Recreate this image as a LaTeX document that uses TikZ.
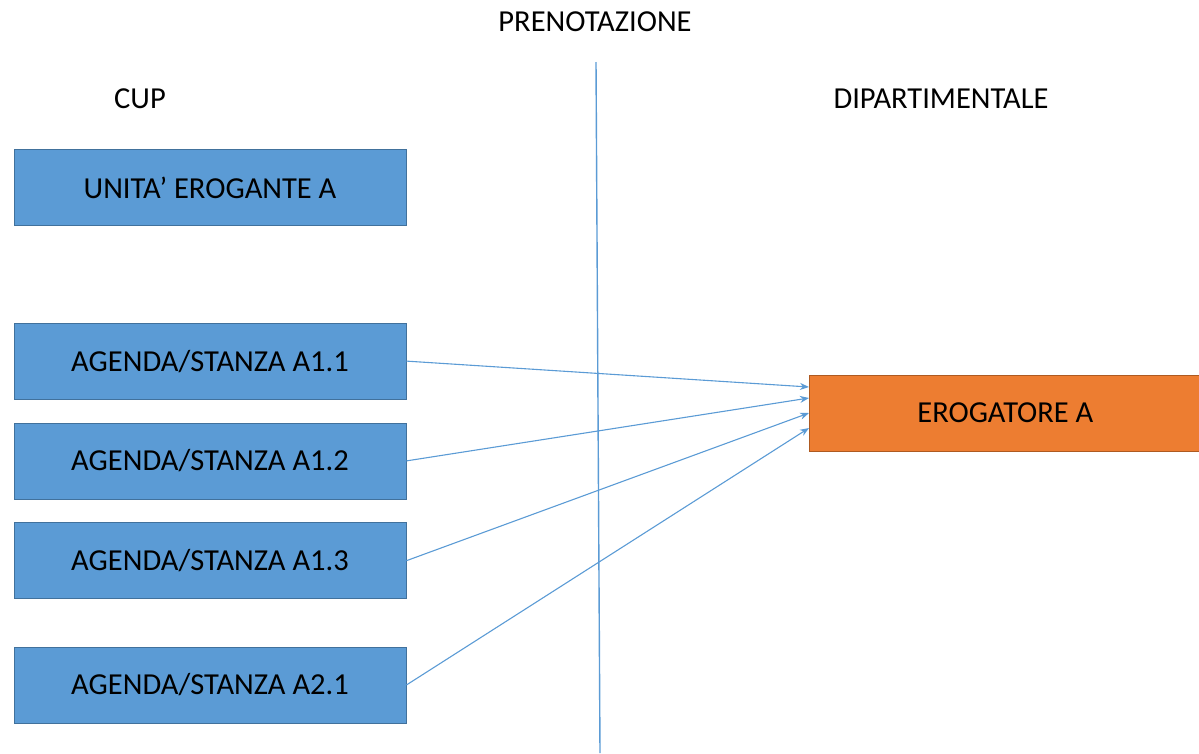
\documentclass[tikz,border=0pt]{standalone}
\usepackage{fontspec}
\setmainfont{Carlito}
\usetikzlibrary{positioning}
\usetikzlibrary{arrows.meta}
\definecolor{boxblue}{HTML}{5B9BD5}
\definecolor{boxblueline}{HTML}{41719C}
\definecolor{boxorange}{HTML}{ED7D31}
\definecolor{boxorangeline}{HTML}{AE5A21}
\tikzset{
	agenda/.style={draw=boxblueline,fill=boxblue,line width=0.8pt,minimum width=392pt,minimum height=76pt,inner sep=0pt},
	erog/.style={draw=boxorangeline,fill=boxorange,line width=0.8pt,minimum width=392pt,minimum height=76pt,inner sep=0pt},
	link/.style={draw=boxblue,line width=1.1pt,-{Stealth[length=9pt,width=7pt]}}
}

\begin{document}
\begin{tikzpicture}[x=1pt,y=-1pt,font=\fontsize{30.5}{36}\selectfont]
	\useasboundingbox (0,0) rectangle (1199,753);
	\node at (595,22) (pren) {PRENOTAZIONE};
	\node at (140,99) (cup) {CUP};
	\node at (941,99) (dip) {DIPARTIMENTALE};
	
	\node[agenda] at (210,187.5) (U) {UNITA’ EROGANTE A};
	\node[agenda,below=96.8pt of U] (A11) {AGENDA/STANZA A1.1};
	\node[agenda,below=23pt of A11] (A12) {AGENDA/STANZA A1.2};
	\node[agenda,below=23pt of A12] (A13) {AGENDA/STANZA A1.3};
	\node[agenda,below=47.5pt of A13] (A21) {AGENDA/STANZA A2.1};
	\node[erog,anchor=west] at (809,413) (E) {EROGATORE A};
	
	\coordinate (top) at (596,62);
	\coordinate (bot) at (600,753);
	\draw[boxblue,line width=1.4pt] (top) -- (bot);
	
	\coordinate (in1) at ([yshift=26pt]E.west);
	\coordinate (in2) at ([yshift=15pt]E.west);
	\coordinate (in3) at ([yshift=0pt]E.west);
	\coordinate (in4) at ([yshift=-15pt]E.west);
	\draw[link] (A11.east) -- (in1);
	\draw[link] (A12.east) -- (in2);
	\draw[link] (A13.east) -- (in3);
	\draw[link] (A21.east) -- (in4);
\end{tikzpicture}
\end{document}
